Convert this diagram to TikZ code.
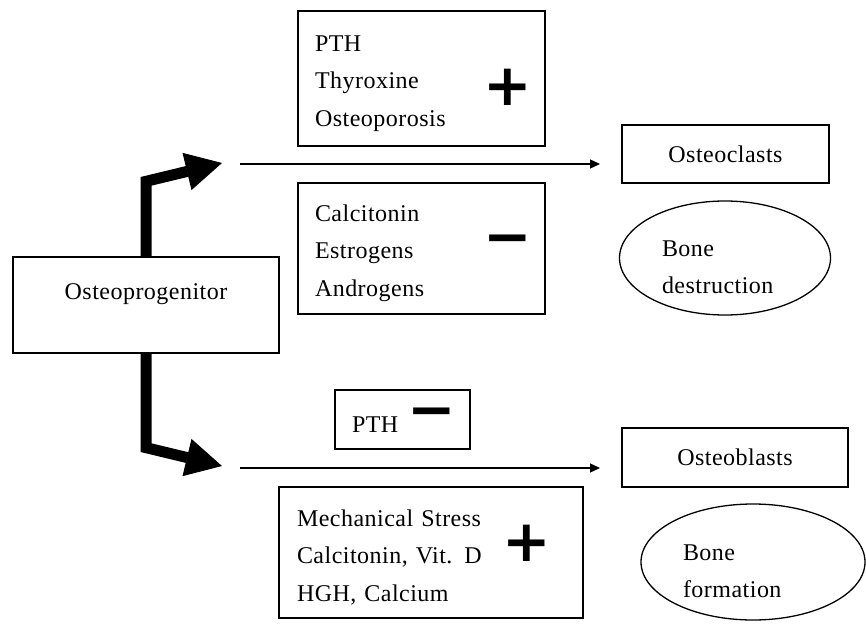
\documentclass[tikz,border=0pt]{standalone}
\usepackage{fontspec}
\setmainfont{Liberation Serif}[LetterSpace=2]
\newfontfamily\signfont{DejaVu Sans}
\usetikzlibrary{arrows.meta,shapes.geometric}

\tikzset{
  box/.style={draw, line width=1.3pt, inner xsep=17pt, inner ysep=0pt, font=\fontsize{24}{37.5}\selectfont},
  listbox/.style={box, align=left, execute at begin node={\rule{0pt}{26pt}}},
  blob/.style={draw, ellipse, line width=1.3pt, inner sep=0pt, align=left, font=\fontsize{24}{37.5}\selectfont, execute at begin node={\rule{0pt}{34pt}}},
  sign/.style={inner sep=0pt, font=\signfont\bfseries\fontsize{58}{58}\selectfont},
  thickarrow/.style={line width=11pt, -{Triangle[length=36pt,width=38pt,line width=1pt]}},
  thinarrow/.style={line width=1.3pt, -{Triangle[length=10pt,width=9pt]}}
}

\begin{document}
\begin{tikzpicture}[x=1pt,y=-1pt]
    \useasboundingbox (0,0) rectangle (866,631);

    \node (prog) [box, minimum width=266pt, minimum height=96pt, text depth=27pt] at (146,305) {Osteoprogenitor};

    \node (act) [listbox, minimum width=247pt, minimum height=135pt, text width=213pt] at (421.5,78.5) {PTH\\Thyroxine\\Osteoporosis};
    \node (actsign) [sign] at (508,87) {+};
    \node (inh) [listbox, minimum width=247pt, minimum height=131pt, text width=213pt] at (421.5,248.5) {Calcitonin\\Estrogens\\Androgens};
    \node (inhsign) [sign] at (508,246) {−};

    \node (pth) [listbox, minimum width=133pt, minimum height=59pt, text width=101pt] at (402.5,419.5) {PTH};
    \node (pthsign) [sign] at (432,419) {−};
    \node (form) [listbox, minimum width=304pt, minimum height=131pt, text width=268pt] at (431,552.5) {Mechanical Stress\\Calcitonin, Vit. D\\HGH, Calcium};
    \node (formsign) [sign] at (527,543) {+};

    \node (clast) [box, minimum width=207pt, minimum height=58pt] at (725.5,154) {Osteoclasts};
    \node (destr) [blob, minimum width=211pt, minimum height=114pt, text width=126pt] at (725,258) {Bone\\destruction};
    \node (blast) [box, minimum width=226pt, minimum height=59pt] at (735,457.5) {Osteoblasts};
    \node (bform) [blob, minimum width=224pt, minimum height=116pt, text width=140pt] at (753,562) {Bone\\formation};

    \coordinate (upend) at (222,163);
    \coordinate (downend) at (222,466);
    \coordinate (clastin) at (240,164);
    \coordinate (clastout) at (600,164);
    \coordinate (blastin) at (240,468);
    \coordinate (blastout) at (600,468);

    \draw[thickarrow] (prog.north) -- ++(0,-75) -- (upend);
    \draw[thickarrow] (prog.south) -- ++(0,94) -- (downend);
    \draw[thinarrow] (clastin) -- (clastout);
    \draw[thinarrow] (blastin) -- (blastout);
\end{tikzpicture}
\end{document}
